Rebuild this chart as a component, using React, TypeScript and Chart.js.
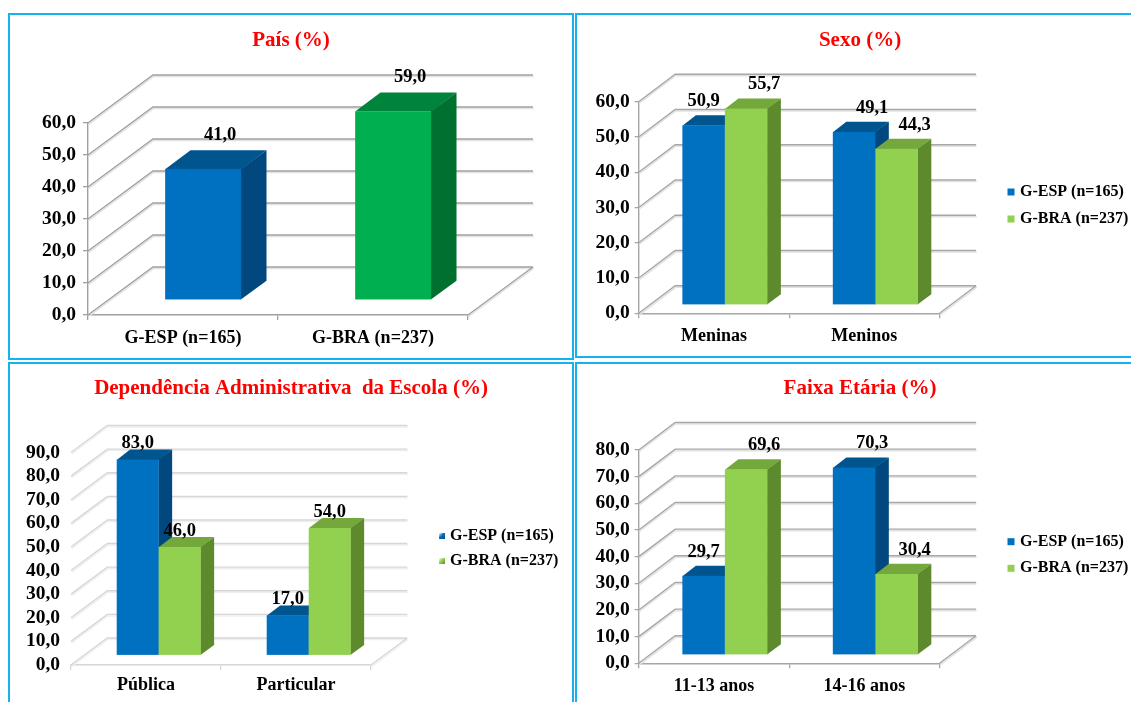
import { useEffect, useRef } from 'react';
import { Chart, registerables } from 'chart.js';

Chart.register(...registerables);

// Series names shared by the panels
const espName = 'G-ESP (n=165)';
const braName = 'G-BRA (n=237)';

// País (%)
const paisCategories = ['G-ESP (n=165)', 'G-BRA (n=237)'];
const paisValues = [41.0, 59.0];

// Sexo (%)
const sexoCategories = ['Meninas', 'Meninos'];
const sexoEsp = [50.9, 49.1];
const sexoBra = [55.7, 44.3];

// Dependência Administrativa da Escola (%)
const escolaCategories = ['Pública', 'Particular'];
const escolaEsp = [83.0, 17.0];
const escolaBra = [46.0, 54.0];

// Faixa Etária (%)
const idadeCategories = ['11-13 anos', '14-16 anos'];
const idadeEsp = [29.7, 70.3];
const idadeBra = [69.6, 30.4];

// Value axis maxima, ticks every 10
const paisMax = 60;
const sexoMax = 60;
const escolaMax = 90;
const idadeMax = 80;
const tickStep = 10;

type Faces = { front: string; side: string; top: string };
const BLUE: Faces = { front: '#0070c0', side: '#00487d', top: '#00558f' };
const GREEN: Faces = { front: '#00b050', side: '#00702f', top: '#00843b' };
const LIME: Faces = { front: '#92d050', side: '#5e8a2e', top: '#74a83c' };

type Series = { name: string; values: number[]; faces: Faces[] };
type Rect = { left: number; top: number; width: number; height: number };

type Spec = {
  title: string;
  titleAt: [number, number];
  canvas: Rect;
  frame: Rect;
  area: { left: number; right: number; top: number; bottom: number };
  dx: number;
  dy: number;
  barStart: number;
  barDepth: number;
  catPct: number;
  categories: string[];
  series: Series[];
  yMax: number;
  yTickLen: number;
  yPad: number;
  xTickLen: number;
  xPad: number;
  axisLine: boolean;
  lineColor: string;
  shadowColor: string;
  labelDx: number;
  labelDy: number;
  legend?: { boxX: number; rows: number[]; size: number; textX: number; gloss: boolean };
};

const SERIF = "'Liberation Serif', 'Times New Roman', Times, serif";
const X_AXIS_H = 36;

function fmt(v: number) {
  return v.toFixed(1).replace('.', ',');
}

function threeD(spec: Spec) {
  const ox = spec.canvas.left;
  const oy = spec.canvas.top;
  return {
    id: 'threeD',
    beforeDatasetsDraw(chart: any) {
      const { ctx, chartArea: a } = chart;
      const yScale = chart.scales.y;
      const { dx, dy } = spec;
      ctx.save();

      // side wall, back wall and floor edge
      const wallPath = () => {
        ctx.beginPath();
        yScale.ticks.forEach((t: any) => {
          const py = yScale.getPixelForValue(t.value);
          ctx.moveTo(a.left, py);
          ctx.lineTo(a.left + dx, py + dy);
          ctx.lineTo(a.right + dx, py + dy);
        });
        ctx.moveTo(a.right, a.bottom);
        ctx.lineTo(a.right + dx, a.bottom + dy);
      };
      ctx.save();
      ctx.translate(0.6, 1.5);
      wallPath();
      ctx.strokeStyle = spec.shadowColor;
      ctx.lineWidth = 1.5;
      ctx.stroke();
      ctx.restore();
      wallPath();
      ctx.strokeStyle = spec.lineColor;
      ctx.lineWidth = 1.4;
      ctx.stroke();

      // boxes
      const sx = spec.barStart * dx;
      const sy = spec.barStart * dy;
      const bx = spec.barDepth * dx;
      const by = spec.barDepth * dy;
      const boxes = spec.series.map((_, i) =>
        chart.getDatasetMeta(i).data.map((el: any) => ({
          l: el.x - el.width / 2 + sx,
          r: el.x + el.width / 2 + sx,
          t: el.y + sy,
          b: el.base + sy,
          cx: el.x + sx,
        }))
      );
      const poly = (pts: number[][], color: string) => {
        ctx.beginPath();
        ctx.moveTo(pts[0][0], pts[0][1]);
        for (let k = 1; k < pts.length; k++) ctx.lineTo(pts[k][0], pts[k][1]);
        ctx.closePath();
        ctx.fillStyle = color;
        ctx.fill();
      };
      boxes.forEach((list: any[], i: number) =>
        list.forEach((q: any, j: number) => {
          const f = spec.series[i].faces[j];
          poly(
            [
              [q.r - 0.3, q.t],
              [q.r + bx, q.t + by],
              [q.r + bx, q.b + by],
              [q.r - 0.3, q.b],
            ],
            f.side
          );
          poly(
            [
              [q.l, q.t + 0.3],
              [q.r, q.t + 0.3],
              [q.r + bx, q.t + by],
              [q.l + bx, q.t + by],
            ],
            f.top
          );
          ctx.fillStyle = f.front;
          ctx.fillRect(q.l, q.t, q.r - q.l, q.b - q.t);
        })
      );

      // value labels
      ctx.fillStyle = '#000';
      ctx.font = `bold 18.5px ${SERIF}`;
      ctx.textAlign = 'center';
      ctx.textBaseline = 'middle';
      boxes.forEach((list: any[], i: number) =>
        list.forEach((q: any, j: number) => {
          const v = chart.data.datasets[i].data[j] as number;
          const cy = q.t - spec.labelDy;
          let cx = q.cx + spec.labelDx;
          const next = boxes[i + 1] ? boxes[i + 1][j] : null;
          if (next && cy + 8 > next.t + by && cx + 16 > next.l) cx = q.cx;
          ctx.fillText(fmt(v), cx, cy);
        })
      );
      ctx.restore();
      return false;
    },
    afterDraw(chart: any) {
      const { ctx } = chart;
      ctx.save();
      ctx.font = `bold 21px ${SERIF}`;
      ctx.fillStyle = '#ff0000';
      ctx.textAlign = 'center';
      ctx.textBaseline = 'middle';
      ctx.fillText(spec.title, spec.titleAt[0] - ox, spec.titleAt[1] - oy);

      const L = spec.legend;
      if (L) {
        spec.series.forEach((s, i) => {
          const cy = L.rows[i] - oy;
          const x = L.boxX - ox;
          const y = cy - L.size / 2;
          if (L.gloss) {
            const g = ctx.createLinearGradient(x, y, x + L.size, y + L.size);
            g.addColorStop(0, '#ffffff');
            g.addColorStop(0.45, s.faces[0].front);
            g.addColorStop(1, s.faces[0].side);
            ctx.fillStyle = g;
          } else {
            ctx.fillStyle = s.faces[0].front;
          }
          ctx.fillRect(x, y, L.size, L.size);
          ctx.fillStyle = '#000';
          ctx.font = `bold 16px ${SERIF}`;
          ctx.textAlign = 'left';
          ctx.textBaseline = 'middle';
          ctx.fillText(s.name, L.textX - ox, cy);
        });
      }
      ctx.restore();
    },
  };
}

function buildConfig(spec: Spec): any {
  const ox = spec.canvas.left;
  const oy = spec.canvas.top;
  const left = spec.area.left - ox;
  const right = spec.area.right - ox;
  const top = spec.area.top - oy;
  const bottom = spec.area.bottom - oy;
  const tickFont = { family: SERIF, size: 19.5, weight: 'bold' as const };
  return {
    type: 'bar',
    data: {
      labels: spec.categories,
      datasets: spec.series.map((s) => ({
        label: s.name,
        data: s.values,
        backgroundColor: s.faces.map((f) => f.front),
        categoryPercentage: spec.catPct,
        barPercentage: 1,
      })),
    },
    options: {
      responsive: false,
      animation: false,
      devicePixelRatio: 1,
      events: [],
      layout: {
        padding: {
          left: 0,
          top,
          right: spec.canvas.width - right,
          bottom: spec.canvas.height - bottom - X_AXIS_H,
        },
      },
      plugins: {
        legend: { display: false },
        title: { display: false },
        tooltip: { enabled: false },
      },
      scales: {
        x: {
          offset: true,
          grid: {
            display: true,
            offset: true,
            drawOnChartArea: false,
            drawTicks: true,
            tickLength: spec.xTickLen,
            color: spec.lineColor,
            lineWidth: 1.3,
          },
          border: { display: true, color: spec.lineColor, width: 1.4 },
          ticks: {
            font: { ...tickFont, size: 18 },
            color: '#000',
            padding: spec.xPad,
            maxRotation: 0,
            autoSkip: false,
          },
          afterFit: (s: any) => {
            s.height = X_AXIS_H;
          },
        },
        y: {
          min: 0,
          max: spec.yMax,
          ticks: {
            stepSize: tickStep,
            autoSkip: false,
            font: tickFont,
            color: '#000',
            padding: spec.yPad,
            callback: (v: any) => fmt(Number(v)),
          },
          grid: {
            display: true,
            drawOnChartArea: false,
            drawTicks: spec.yTickLen > 0,
            tickLength: spec.yTickLen,
            color: spec.lineColor,
            lineWidth: 1.3,
          },
          border: { display: spec.axisLine, color: spec.lineColor, width: 1.4 },
          afterFit: (s: any) => {
            s.width = left;
          },
        },
      },
    },
    plugins: [threeD(spec)],
  };
}

const specs: Spec[] = [
  {
    title: 'País (%)',
    titleAt: [291, 41],
    canvas: { left: 9, top: 14, width: 564, height: 345 },
    frame: { left: 8, top: 13, width: 566, height: 347 },
    area: { left: 88, right: 468, top: 123, bottom: 315 },
    dx: 65,
    dy: -48,
    barStart: 0.31,
    barDepth: 0.39,
    catPct: 0.4,
    categories: paisCategories,
    series: [{ name: 'País', values: paisValues, faces: [BLUE, GREEN] }],
    yMax: paisMax,
    yTickLen: 5,
    yPad: 7,
    xTickLen: 5,
    xPad: 8,
    axisLine: true,
    lineColor: '#a0a0a0',
    shadowColor: '#e2e2e2',
    labelDx: 17,
    labelDy: 34,
  },
  {
    title: 'Sexo (%)',
    titleAt: [860, 41],
    canvas: { left: 576, top: 14, width: 555, height: 343 },
    frame: { left: 575, top: 13, width: 600, height: 345 },
    area: { left: 638.7, right: 939.6, top: 101.7, bottom: 313.3 },
    dx: 36.5,
    dy: -27.5,
    barStart: 0.3,
    barDepth: 0.37,
    catPct: 0.565,
    categories: sexoCategories,
    series: [
      { name: espName, values: sexoEsp, faces: [BLUE, BLUE] },
      { name: braName, values: sexoBra, faces: [LIME, LIME] },
    ],
    yMax: sexoMax,
    yTickLen: 4,
    yPad: 5,
    xTickLen: 5,
    xPad: 7,
    axisLine: true,
    lineColor: '#a6a6a6',
    shadowColor: '#e2e2e2',
    labelDx: 18,
    labelDy: 24,
    legend: { boxX: 1007.5, rows: [192, 219], size: 7, textX: 1020, gloss: false },
  },
  {
    title: 'Dependência Administrativa  da Escola (%)',
    titleAt: [291, 389],
    canvas: { left: 9, top: 363, width: 564, height: 339 },
    frame: { left: 8, top: 362, width: 566, height: 400 },
    area: { left: 71, right: 371, top: 452.5, bottom: 665 },
    dx: 36.3,
    dy: -27,
    barStart: 0.35,
    barDepth: 0.37,
    catPct: 0.56,
    categories: escolaCategories,
    series: [
      { name: espName, values: escolaEsp, faces: [BLUE, BLUE] },
      { name: braName, values: escolaBra, faces: [LIME, LIME] },
    ],
    yMax: escolaMax,
    yTickLen: 0,
    yPad: 11,
    xTickLen: 5,
    xPad: 5,
    axisLine: false,
    lineColor: '#d6d6d6',
    shadowColor: '#efefef',
    labelDx: 0,
    labelDy: 16,
    legend: { boxX: 439, rows: [536, 561], size: 6, textX: 450, gloss: true },
  },
  {
    title: 'Faixa Etária (%)',
    titleAt: [860, 389],
    canvas: { left: 576, top: 363, width: 555, height: 339 },
    frame: { left: 575, top: 362, width: 600, height: 400 },
    area: { left: 638.7, right: 939.6, top: 450, bottom: 663.3 },
    dx: 36.5,
    dy: -27.5,
    barStart: 0.3,
    barDepth: 0.37,
    catPct: 0.565,
    categories: idadeCategories,
    series: [
      { name: espName, values: idadeEsp, faces: [BLUE, BLUE] },
      { name: braName, values: idadeBra, faces: [LIME, LIME] },
    ],
    yMax: idadeMax,
    yTickLen: 4,
    yPad: 5,
    xTickLen: 5,
    xPad: 7,
    axisLine: true,
    lineColor: '#a6a6a6',
    shadowColor: '#e2e2e2',
    labelDx: 18,
    labelDy: 24,
    legend: { boxX: 1007.5, rows: [541.7, 568.3], size: 7, textX: 1020, gloss: false },
  },
];

function Panel({ spec }: { spec: Spec }) {
  const ref = useRef<HTMLCanvasElement>(null);
  useEffect(() => {
    const canvas = ref.current;
    if (!canvas) return;
    const chart = new Chart(canvas, buildConfig(spec));
    return () => chart.destroy();
  }, [spec]);
  const c = spec.canvas;
  const f = spec.frame;
  return (
    <>
      <canvas
        ref={ref}
        width={c.width}
        height={c.height}
        style={{ position: 'absolute', left: c.left, top: c.top, width: c.width, height: c.height }}
      />
      <div
        style={{
          position: 'absolute',
          left: f.left,
          top: f.top,
          width: f.width,
          height: f.height,
          border: '2px solid #14b2ee',
          boxSizing: 'border-box',
          pointerEvents: 'none',
        }}
      />
    </>
  );
}

export default function App() {
  return (
    <div
      style={{
        position: 'absolute',
        left: 0,
        top: 0,
        width: 1131,
        height: 702,
        overflow: 'hidden',
        background: '#ffffff',
      }}
    >
      {specs.map((s) => (
        <Panel key={s.title} spec={s} />
      ))}
    </div>
  );
}
